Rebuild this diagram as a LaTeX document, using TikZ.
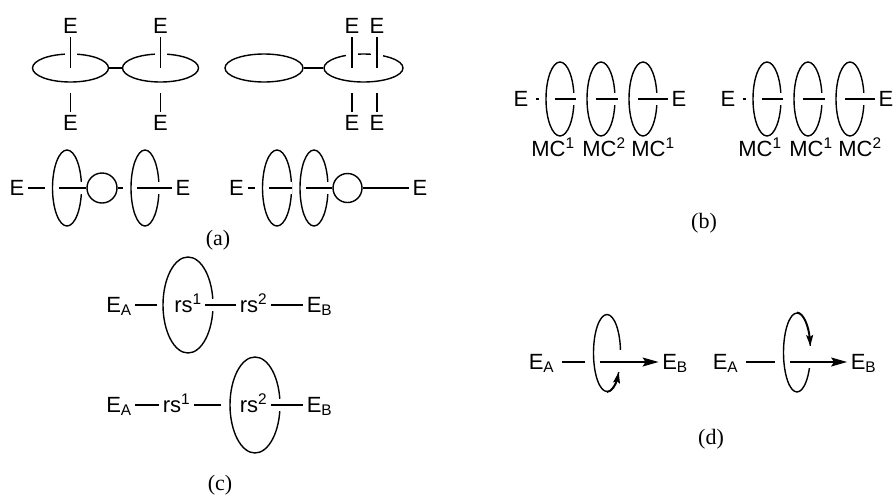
\documentclass[tikz,border=0pt]{standalone}
\usepackage{fontspec}
\setmainfont{Liberation Serif}
\setsansfont{Liberation Sans}
\usetikzlibrary{shapes.geometric,arrows.meta}

\tikzset{
  lbl/.style={font=\sffamily\fontsize{22}{25}\selectfont, inner sep=3pt, text height=15pt, text depth=0pt},
  panel/.style={font=\fontsize{22}{25}\selectfont},
  ring/.style={ellipse, draw, inner sep=0pt, minimum width=29pt, minimum height=76pt},
  flatring/.style={ring, minimum width=76pt, minimum height=28pt},
  bigring/.style={ring, minimum width=50pt, minimum height=96pt},
  overpass/.style={preaction={draw=white, line width=12pt}},
  arr/.style={-{Stealth[length=16pt,width=9pt,inset=3pt]}},
  carr/.style={-{Stealth[length=11pt,width=7pt,inset=2pt]}}
}

\begin{document}
\begin{tikzpicture}[x=1pt, y=-1pt, line width=1.4pt]
\useasboundingbox (0,0) rectangle (894,496);

% (a) anneaux couches
\node[flatring] (t1) at (70.5,68) {};
\node[flatring] (t2) at (160.5,68) {};
\node[flatring, minimum width=78pt] (t3) at (264,68) {};
\node[flatring, minimum width=79pt] (t4) at (363.5,68) {};
\draw (t1) -- (t2);
\draw (t3) -- (t4);

\foreach \n/\x/\r in {1/70.5/t1, 2/160.5/t2, 3/352/t4, 4/377/t4}
{
\node[lbl] (Eh\n) at (\x,26) {E};
\node[lbl] (Eb\n) at (\x,123) {E};
\draw[overpass] (Eh\n) -- (Eh\n |- \r.center);
\draw[shorten >=10pt] (Eb\n) -- (Eb\n |- \r.south);
}

% (a) anneaux debout
\node[lbl] (Ea1) at (17,188) {E};
\node[ring] (ra1) at (67,188) {};
\node[circle, draw, minimum size=30pt, inner sep=0pt] (ca1) at (102,188) {};
\node[ring, minimum width=28pt] (ra2) at (145,188) {};
\node[lbl] (Ea2) at (183,188) {E};
\draw (Ea1) -- ([xshift=-7pt]ra1.west);
\draw[overpass] ([xshift=7pt]ra1.west) -- (ca1);
\draw (ca1) -- ([xshift=-7pt]ra2.west);
\draw[overpass] ([xshift=7pt]ra2.west) -- (Ea2);

\node[lbl] (Ea3) at (236.5,188) {E};
\node[ring] (rb1) at (277,188) {};
\node[ring, minimum width=28pt] (rb2) at (314,188) {};
\node[circle, draw, minimum size=29pt, inner sep=0pt] (cb1) at (347.5,188) {};
\node[lbl] (Ea4) at (420,188) {E};
\draw (Ea3) -- ([xshift=-7pt]rb1.west);
\draw[overpass] ([xshift=7pt]rb1.west) -- ([xshift=-7pt]rb2.west);
\draw[overpass] ([xshift=7pt]rb2.west) -- (cb1);
\draw (cb1) -- (Ea4);

\node[panel] (pa) at (218,240) {(a)};

% (b) chaines MC
\foreach \dx/\la/\lb/\lc in {0/1/2/1, 207/1/1/2}
{
\begin{scope}[xshift=\dx pt]
\node[lbl] (Em1) at (521,99) {E};
\node[ring, minimum width=28pt, minimum height=74pt] (m1) at (560,99) {};
\node[ring, minimum width=28pt, minimum height=74pt] (m2) at (601,99) {};
\node[ring, minimum width=28pt, minimum height=74pt] (m3) at (643,99) {};
\node[lbl] (Em2) at (679,99) {E};
\draw[shorten <=4pt] (Em1) -- ([xshift=-6pt]m1.west);
\draw[overpass] ([xshift=10pt]m1.west) -- ([xshift=-10pt]m2.west);
\draw[overpass] ([xshift=10pt]m2.west) -- ([xshift=-10pt]m3.west);
\draw[overpass] ([xshift=10pt]m3.west) -- (Em2);
\node[lbl] (mc1) at (553,149) {MC\textsuperscript{\la}};
\node[lbl] (mc2) at (604,149) {MC\textsuperscript{\lb}};
\node[lbl] (mc3) at (653,149) {MC\textsuperscript{\lc}};
\end{scope}
}

\node[panel] (pb) at (704,223) {(b)};

% (c) rs
\node[lbl] (EAc1) at (119,305) {E\textsubscript{A}};
\node[bigring] (c1) at (188,305) {};
\node[lbl] (rs1a) at (188,305) {rs\textsuperscript{1}};
\node[lbl] (rs2a) at (253.5,305) {rs\textsuperscript{2}};
\node[lbl] (EBc1) at (319.5,305) {E\textsubscript{B}};
\draw (EAc1) -- ([xshift=-5pt]c1.west);
\draw[overpass] (rs1a) -- (rs2a);
\draw (rs2a) -- (EBc1);

\node[lbl] (EAc2) at (119,405) {E\textsubscript{A}};
\node[lbl] (rs1b) at (176.5,405) {rs\textsuperscript{1}};
\node[bigring] (c2) at (255,405) {};
\node[lbl] (rs2b) at (253.5,405) {rs\textsuperscript{2}};
\node[lbl] (EBc2) at (319.5,405) {E\textsubscript{B}};
\draw (EAc2) -- (rs1b);
\draw (rs1b) -- ([xshift=-8pt]c2.west);
\draw[overpass] (rs2b) -- (EBc2);

\node[panel] (pc) at (220,485) {(c)};

% (d) rotation
\node[lbl] (EAd1) at (541.5,362) {E\textsubscript{A}};
\node[ring, minimum width=27pt, minimum height=77pt] (d1) at (607,353) {};
\node[lbl] (EBd1) at (675,362) {E\textsubscript{B}};
\coordinate (x1) at (d1.west |- EAd1);
\fill[white] ([shift={(-4,-3)}]d1.east) rectangle ([shift={(4,19)}]d1.east);
\draw[shorten <=4pt] (EAd1) -- ([xshift=-8pt]x1);
\draw[arr] ([xshift=7pt]x1) -- (EBd1);
\draw[carr] (d1.south) .. controls +(4.8,0) and +(-2.4,11.9) .. ([shift={(11.7,19.25)}]d1.center);

\node[lbl] (EAd2) at (725.5,362) {E\textsubscript{A}};
\node[ring, minimum width=27pt, minimum height=79pt] (d2) at (797,352.5) {};
\node[lbl] (EBd2) at (863.5,362) {E\textsubscript{B}};
\coordinate (x2) at (d2.west |- EAd2);
\fill[white] ([shift={(-4,-7)}]d2.east) rectangle ([shift={(4,15.5)}]d2.east);
\draw[shorten <=4pt] (EAd2) -- ([xshift=-8pt]x2);
\draw[arr] ([xshift=7pt]x2) -- (EBd2);
\draw[carr] (d2.north) .. controls +(6.6,0) and +(-1.1,-19) .. ([shift={(13.3,-6.5)}]d2.center);

\node[panel] (pd) at (711,439) {(d)};

\end{tikzpicture}
\end{document}
